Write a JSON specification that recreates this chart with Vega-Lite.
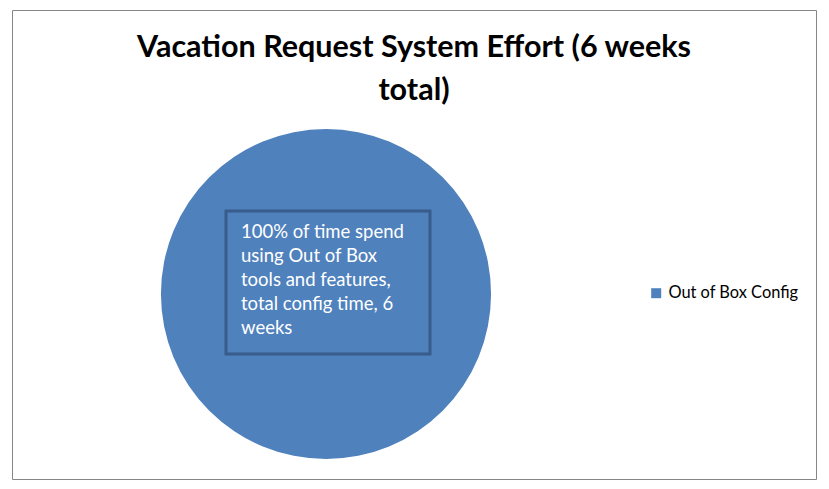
{
  "$schema": "https://vega.github.io/schema/vega-lite/v6.json",
  "autosize": "none",
  "padding": {"left": 12, "top": 10, "right": 13, "bottom": 10},
  "width": 804,
  "height": 469,
  "background": "white",
  "title": {
    "text": ["Vacation Request System Effort (6 weeks", "total)"],
    "font": "Lato",
    "fontWeight": "bold",
    "fontSize": 30.5,
    "lineHeight": 43,
    "color": "black",
    "anchor": "middle",
    "frame": "group",
    "baseline": "top",
    "dy": 100
  },
  "data": {
    "values": [
      {"category": "Out of Box Config", "share": 100, "label": "100% of time spend\nusing Out of Box\ntools and features,\ntotal config time, 6\nweeks"}
    ]
  },
  "layer": [
    {
      "mark": {"type": "arc", "outerRadius": 165, "stroke": null},
      "encoding": {
        "theta": {"field": "share", "type": "quantitative"},
        "color": {
          "field": "category",
          "type": "nominal",
          "scale": {"range": ["#4F81BD"]},
          "legend": {
            "title": null,
            "orient": "none",
            "legendX": 636,
            "legendY": 275,
            "symbolType": "square",
            "symbolSize": 100,
            "symbolStrokeWidth": 0,
            "labelFont": "Lato",
            "labelFontSize": 16.4,
            "labelColor": "black"
          }
        },
        "x": {"datum": 314, "type": "quantitative", "scale": {"domain": [0, 804], "nice": false, "zero": false}, "axis": null},
        "y": {"datum": 284, "type": "quantitative", "scale": {"domain": [0, 469], "nice": false, "zero": false, "reverse": true}, "axis": null}
      }
    },
    {
      "mark": {"type": "rect", "fill": null, "stroke": "#385D8A", "strokeWidth": 3},
      "encoding": {
        "x": {"datum": 214, "type": "quantitative"},
        "x2": {"datum": 418},
        "y": {"datum": 201, "type": "quantitative"},
        "y2": {"datum": 344}
      }
    },
    {
      "mark": {"type": "text", "align": "left", "baseline": "top", "lineBreak": "\n", "lineHeight": 24, "font": "Lato", "fontSize": 18.5, "color": "white"},
      "encoding": {
        "x": {"datum": 229, "type": "quantitative"},
        "y": {"datum": 213, "type": "quantitative"},
        "text": {"field": "label"}
      }
    }
  ],
  "config": {
    "view": {"stroke": "#868686", "strokeWidth": 1}
  }
}
